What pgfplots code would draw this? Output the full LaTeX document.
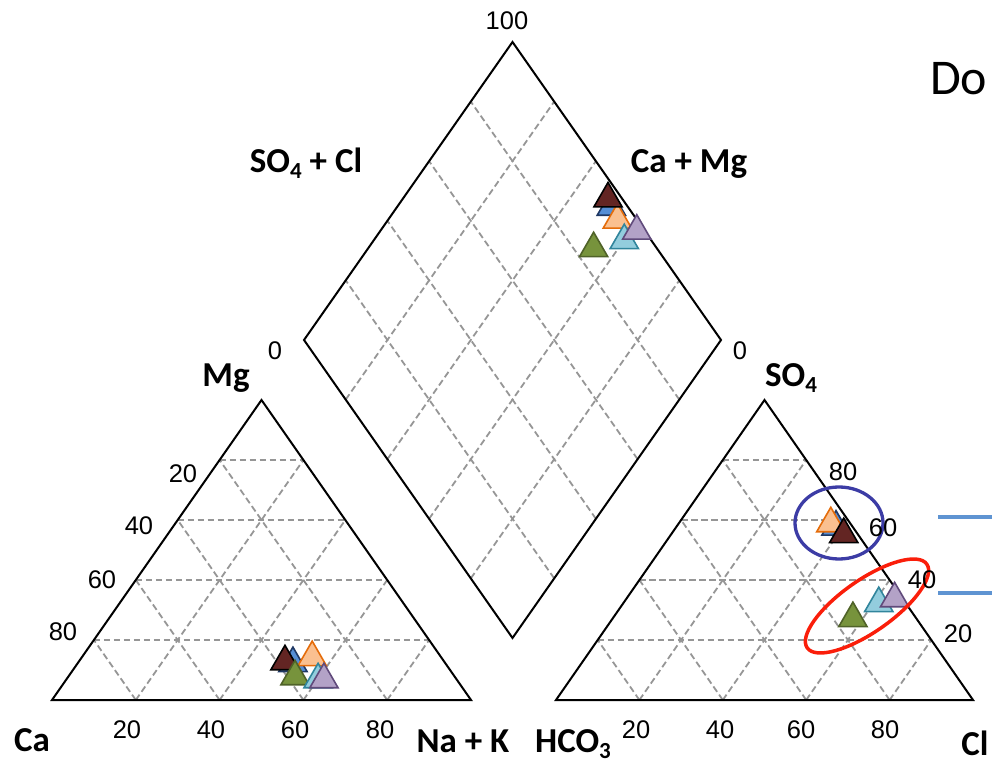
\documentclass[border=0pt]{standalone}
\usepackage{pgfplots}
\pgfplotsset{compat=1.18}
\usepackage{pgfplotstable}
\usepackage{fontspec}
\setmainfont{Liberation Sans}
\newfontfamily\carl{Carlito}
\usetikzlibrary{calc}

% ternary percentages of each sample: Mg, Na+K (cations); SO4, Cl (anions)
\pgfplotstableread{
Mg NaK SO4 Cl
12.2 51.4 57.7 38.3
}\sblue
\pgfplotstableread{
Mg NaK SO4 Cl
14.2 55.0 58.8 36.5
}\sorange
\pgfplotstableread{
Mg NaK SO4 Cl
12.8 49.2 55.2 41.4
}\smaroon
\pgfplotstableread{
Mg NaK SO4 Cl
7.8 54.1 27.2 57.6
}\sgreen
\pgfplotstableread{
Mg NaK SO4 Cl
6.8 60.1 32.2 61.3
}\scyan
\pgfplotstableread{
Mg NaK SO4 Cl
6.8 61.5 33.8 64.3
}\spurple

\definecolor{gridgray}{RGB}{150,150,150}
\definecolor{mBlueF}{RGB}{85,142,213}\definecolor{mBlueD}{RGB}{31,56,100}
\definecolor{mOrF}{RGB}{250,192,144}\definecolor{mOrD}{RGB}{228,108,10}
\definecolor{mMaF}{RGB}{99,37,35}\definecolor{mMaD}{RGB}{0,0,0}
\definecolor{mGrF}{RGB}{119,147,60}\definecolor{mGrD}{RGB}{79,98,40}
\definecolor{mCyF}{RGB}{147,205,221}\definecolor{mCyD}{RGB}{49,133,156}
\definecolor{mPuF}{RGB}{179,162,199}\definecolor{mPuD}{RGB}{96,74,123}
\definecolor{ellBlue}{RGB}{60,60,165}
\definecolor{ellRed}{RGB}{250,30,10}
\definecolor{arrBlue}{RGB}{95,148,210}

\pgfplotsset{
  mk/.style 2 args={only marks, mark=triangle*, mark size=16.3pt,
    mark options={fill=#1, draw=#2, line width=1.6pt, solid}},
}
\newcommand{\plotsample}[3]{%
  \addplot[mk={#2}{#3}] table[x expr={52+4.19*(\thisrow{NaK}+\thisrow{Mg}/2)}, y expr={700-3*\thisrow{Mg}}] {#1};
  \addplot[mk={#2}{#3}] table[x expr={556+4.17*(\thisrow{Cl}+\thisrow{SO4}/2)}, y expr={700-3*\thisrow{SO4}}] {#1};
  \addplot[mk={#2}{#3}] table[x expr={512.5+2.085*(\thisrow{SO4}+\thisrow{Cl}-100+\thisrow{NaK})},
              y expr={638-2.98*(\thisrow{SO4}+\thisrow{Cl}+100-\thisrow{NaK})}] {#1};
}

\begin{document}
\begin{tikzpicture}
\begin{scope}[x=1pt,y=-1pt,yshift=763pt,
  grid/.style={gridgray, line width=1.8pt, dash pattern=on 6.5pt off 3.5pt},
  edge/.style={black, line width=2pt, line join=miter}]
  \coordinate (A) at (52,700); \coordinate (B) at (471,700); \coordinate (C) at (261.5,400);
  \coordinate (D) at (556,700); \coordinate (E) at (973,700); \coordinate (F) at (764.5,400);
  \coordinate (Bo) at (512.5,638); \coordinate (L) at (304,340); \coordinate (R) at (721,340); \coordinate (T) at (512.5,42);
  \foreach \t in {0.2,0.4,0.6,0.8}{
    \draw[grid] ($(A)!\t!(C)$) -- ($(B)!\t!(C)$);
    \draw[grid] ($(A)!\t!(B)$) -- ($(C)!\t!(B)$);
    \draw[grid] ($(A)!\t!(B)$) -- ($(A)!\t!(C)$);
    \draw[grid] ($(D)!\t!(F)$) -- ($(E)!\t!(F)$);
    \draw[grid] ($(D)!\t!(E)$) -- ($(F)!\t!(E)$);
    \draw[grid] ($(D)!\t!(E)$) -- ($(D)!\t!(F)$);
    \draw[grid] ($(Bo)!\t!(R)$) -- ($(L)!\t!(T)$);
    \draw[grid] ($(Bo)!\t!(L)$) -- ($(R)!\t!(T)$);
  }
  \draw[edge] (A)--(B)--(C)--cycle;
  \draw[edge] (D)--(E)--(F)--cycle;
  \draw[edge] (Bo)--(R)--(T)--(L)--cycle;
\end{scope}

\begin{axis}[at={(0,0)}, anchor=south west, width=992pt, height=763pt, scale only axis,
  xmin=0, xmax=992, ymin=0, ymax=763, y dir=reverse, hide axis, clip=false]
  \plotsample{\sblue}{mBlueF}{mBlueD}
  \plotsample{\sorange}{mOrF}{mOrD}
  \plotsample{\smaroon}{mMaF}{mMaD}
  \plotsample{\sgreen}{mGrF}{mGrD}
  \plotsample{\scyan}{mCyF}{mCyD}
  \plotsample{\spurple}{mPuF}{mPuD}
\end{axis}

\begin{scope}[x=1pt,y=-1pt,yshift=763pt]
  % annotations
  \draw[ellBlue, line width=3.3pt] (839,523) ellipse [x radius=44, y radius=36];
  \draw[ellRed, line width=3.5pt, rotate around={35:(867,606)}] (867,606) ellipse [x radius=73, y radius=26];
  \draw[arrBlue, line width=4pt] (938,517) -- (1000,517);
  \draw[arrBlue, line width=4pt] (938,593) -- (1000,593);
  % numbers
  \begin{scope}[every node/.style={font=\fontsize{25.5}{25.5}\selectfont, anchor=base, inner sep=0pt}]
    \node at (507,30) {100};
    \node at (275,360) {0};
    \node at (740,360) {0};
    \node at (183,483) {20};
    \node at (139,535) {40};
    \node at (102,588) {60};
    \node at (63,640) {80};
    \node at (127,738) {20};
    \node at (211,738) {40};
    \node at (295,738) {60};
    \node at (380,738) {80};
    \node at (636,738) {20};
    \node at (720,738) {40};
    \node at (801,738) {60};
    \node at (885,738) {80};
    \node at (843,481) {80};
    \node at (883,537) {60};
    \node at (922,588) {40};
    \node at (958,642) {20};
  \end{scope}
  \begin{scope}[every node/.style={font=\carl\bfseries\fontsize{35}{35}\selectfont, anchor=base, inner sep=0pt}]
    \node at (306,173) {SO\raisebox{-6pt}{\fontsize{23}{23}\selectfont 4} + Cl};
    \node at (689,173) {Ca + Mg};
    \node at (226,387) {Mg};
    \node at (791,387) {SO\raisebox{-6pt}{\fontsize{23}{23}\selectfont 4}};
    \node at (32,751) {Ca};
    \node at (463,752) {Na + K};
    \node at (573,752) {HCO\raisebox{-6pt}{\fontsize{23}{23}\selectfont 3}};
    \node at (975,755) {Cl};
  \end{scope}
  \node[font=\carl\fontsize{50}{50}\selectfont, anchor=base west, inner sep=0pt] at (930,95) {Do};
\end{scope}
\pgfresetboundingbox
\useasboundingbox (0,0) rectangle (992pt,763pt);
\end{tikzpicture}
\end{document}
